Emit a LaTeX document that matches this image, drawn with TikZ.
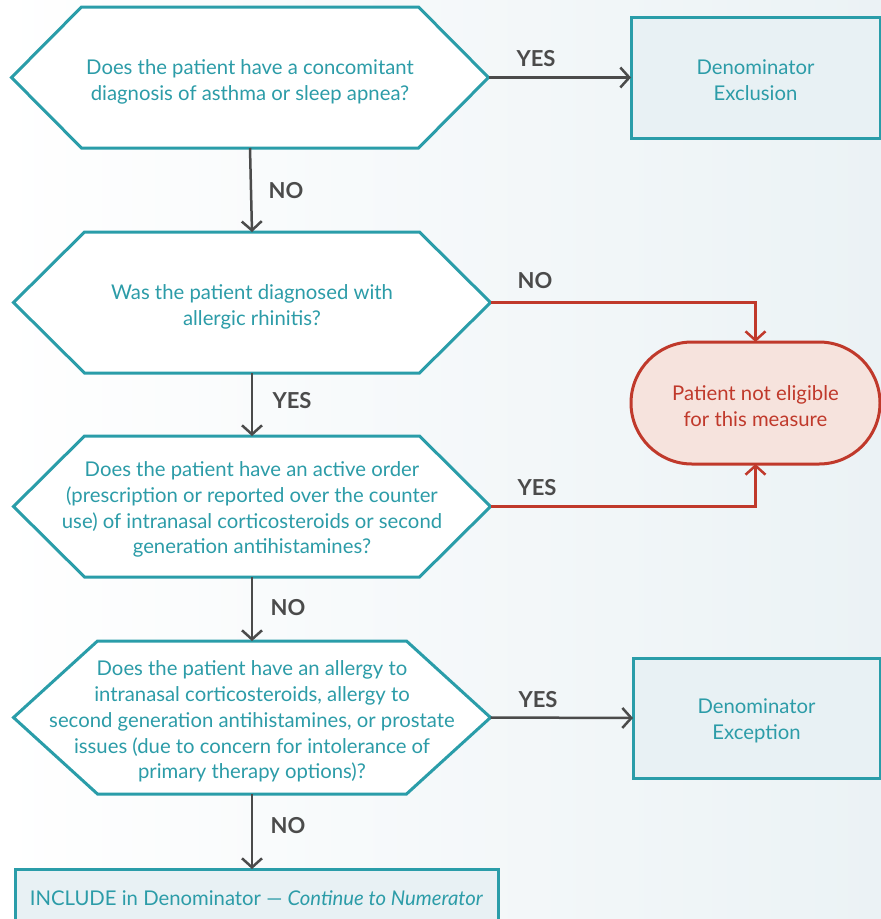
\documentclass[tikz,border=0pt]{standalone}
\usepackage{fontspec}
\setmainfont{Lato}
\usetikzlibrary{arrows.meta,calc,backgrounds}
\definecolor{teal}{HTML}{2A9DA9}
\definecolor{tealtext}{HTML}{2C9CA8}
\definecolor{boxfill}{HTML}{E8F1F4}
\definecolor{redline}{HTML}{C0392B}
\definecolor{pillfill}{HTML}{F6E3DD}
\definecolor{arrowgrey}{HTML}{4B4B4B}
\definecolor{bgright}{HTML}{EBF2F5}
\newcommand{\hexoutline}[2]{%
  \filldraw[hexline] (#1.west) -- ($(#1.north west)+(#2,0)$) -- ($(#1.north east)+(-#2,0)$)
    -- (#1.east) -- ($(#1.south east)+(-#2,0)$) -- ($(#1.south west)+(#2,0)$) -- cycle;}
\begin{document}
\begin{tikzpicture}[x=1pt,y=-1pt,
  txt/.style={align=center, font=\fontsize{20.3}{25.8}\selectfont, inner sep=0pt},
  hexq/.style={shape=rectangle, draw=none, minimum width=477pt, minimum height=141pt,
    inner sep=0pt, outer sep=0pt},
  hexline/.style={draw=teal, fill=white, line width=3pt},
  outbox/.style={shape=rectangle, draw=teal, line width=3pt, fill=boxfill,
    inner sep=0pt, outer sep=0pt},
  pill/.style={shape=rectangle, rounded corners=61pt, draw=redline, line width=3pt,
    fill=pillfill, minimum width=249pt, minimum height=122pt, inner sep=0pt, outer sep=0pt},
  flow/.style={draw=arrowgrey, line width=2.5pt, -{Straight Barb[length=9pt,width=20pt]}},
  redflow/.style={draw=redline, line width=2.5pt, -{Straight Barb[length=9pt,width=20pt]}},
  lbl/.style={text=arrowgrey, font=\fontsize{22}{26}\selectfont\bfseries, inner sep=0pt}
]
\useasboundingbox (0,0) rectangle (881,919);

\node[hexq, label={[txt, text=tealtext, yshift=-4pt]center:{Does the patient have a concomitant\\diagnosis of asthma or sleep apnea?}}] (q1) at (250,77.5) {};
\node[hexq, label={[txt, text=tealtext, yshift=-4pt]center:{Was the patient diagnosed with\\allergic rhinitis?}}] (q2) at (252,302.5) {};
\node[hexq, label={[txt, text=tealtext, yshift=-3pt]center:{Does the patient have an active order\\(prescription or reported over the counter\\use) of intranasal corticosteroids or second\\generation antihistamines?}}] (q3) at (252,506.5) {};
\node[hexq, minimum height=153pt, label={[txt, text=tealtext, yshift=-4pt]center:{Does the patient have an allergy to\\intranasal corticosteroids, allergy to\\second generation antihistamines, or prostate\\issues (due to concern for intolerance of\\primary therapy options)?}}] (q4) at (252,717.5) {};

\begin{scope}[on background layer]
  \shade[left color=white, right color=bgright] (0,0) rectangle (881,919);
  \hexoutline{q1}{70}
  \hexoutline{q2}{71}
  \hexoutline{q3}{71}
  \hexoutline{q4}{84}
\end{scope}

\node[outbox, minimum width=249pt, minimum height=121pt,
  label={[txt, text=tealtext, yshift=-3pt]center:{Denominator\\Exclusion}}] (excl) at (755.5,77.5) {};
\node[pill, label={[txt, text=redline, yshift=-3pt]center:{Patient not eligible\\for this measure}}] (notelig) at (755.5,403) {};
\node[outbox, minimum width=247pt, minimum height=120pt,
  label={[txt, text=tealtext, yshift=-3pt]center:{Denominator\\Exception}}] (exc) at (756.5,718) {};
\node[outbox, minimum width=483pt, minimum height=54pt,
  label={[txt, text=tealtext, yshift=-2pt]center:{INCLUDE in Denominator --- \textit{Continue to Numerator}}}] (incl) at (256.5,896) {};

\draw[flow] (q1.east) -- (excl.west);
\draw[flow] (q1.south) -- (q2.north);
\draw[redflow] (q2.east) -| (notelig.north);
\draw[flow] (q2.south) -- (q3.north);
\draw[redflow] (q3.east) -| (notelig.south);
\draw[flow] (q3.south) -- (q4.north);
\draw[flow] (q4.east) -- (exc.west);
\draw[flow] (q4.south) -- (q4.south |- incl.north);

\node[lbl] (l1) at (536,59) {YES};
\node[lbl] (l2) at (286,191) {NO};
\node[lbl] (l3) at (535,281) {NO};
\node[lbl] (l4) at (292,401) {YES};
\node[lbl] (l5) at (537,488) {YES};
\node[lbl] (l6) at (288,608) {NO};
\node[lbl] (l7) at (538,700) {YES};
\node[lbl] (l8) at (288,826) {NO};
\end{tikzpicture}
\end{document}
